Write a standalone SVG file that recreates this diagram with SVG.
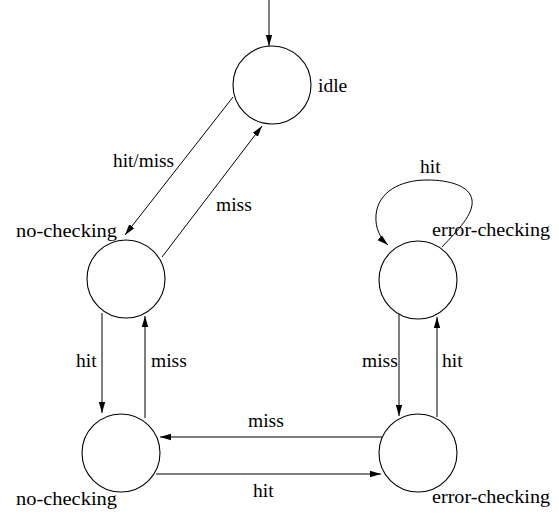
<svg xmlns="http://www.w3.org/2000/svg" width="559" height="515" viewBox="0 0 559 515">
<style>
  .node circle { fill: #fff; stroke: #000; stroke-width: 1.1; }
  .edges path { fill: none; stroke: #000; stroke-width: 1; marker-end: url(#ah); }
</style>
<defs>
  <marker id="ah" markerWidth="12" markerHeight="8" refX="11" refY="4" orient="auto" markerUnits="userSpaceOnUse">
    <path d="M0,0.8 L11,4 L0,7.2 z" fill="#000"/>
  </marker>
</defs>
<rect width="559" height="515" fill="#fff"/>
<g font-family="Liberation Serif, DejaVu Serif, serif" font-size="19.5" fill="#000">
<g class="edges" id="connectors">
  <path d="M269,0 L269,46"/>
  <path d="M233,97 L125,235"/>
  <path d="M162,257 L262,126"/>
  <path d="M102,313 L102,413"/>
  <path d="M145,418 L145,316"/>
  <path d="M382,437 L160,437"/>
  <path d="M156,474 L381,474"/>
  <path d="M399,313 L399,416"/>
  <path d="M437,417 L437,317"/>
  <path d="M442,247 C458,230 474,214 472,200 C470,186 450,180 427,180 C400,180 378,192 376,215 C375,228 380,238 388,245"/>
</g>
<g id="labels">
  <text x="113" y="167" textLength="61" lengthAdjust="spacingAndGlyphs">hit/miss</text>
  <text x="216" y="211">miss</text>
  <text x="420" y="173">hit</text>
  <text x="76" y="367">hit</text>
  <text x="151" y="367">miss</text>
  <text x="362" y="367">miss</text>
  <text x="442" y="367">hit</text>
  <text x="248" y="427">miss</text>
  <text x="253" y="497">hit</text>
</g>
<g class="node" id="idle">
  <circle cx="272" cy="85" r="39"/>
  <text x="318" y="92">idle</text>
</g>
<g class="node" id="nocheck1">
  <circle cx="126" cy="279" r="39"/>
  <text x="16" y="237" textLength="101" lengthAdjust="spacingAndGlyphs">no-checking</text>
</g>
<g class="node" id="nocheck2">
  <circle cx="121" cy="453" r="39"/>
  <text x="16" y="505" textLength="101" lengthAdjust="spacingAndGlyphs">no-checking</text>
</g>
<g class="node" id="errcheck1">
  <circle cx="418" cy="280" r="39"/>
  <text x="432" y="236" textLength="118" lengthAdjust="spacingAndGlyphs">error-checking</text>
</g>
<g class="node" id="errcheck2">
  <circle cx="418" cy="453" r="39"/>
  <text x="432" y="503" textLength="118" lengthAdjust="spacingAndGlyphs">error-checking</text>
</g>
</g>
</svg>
